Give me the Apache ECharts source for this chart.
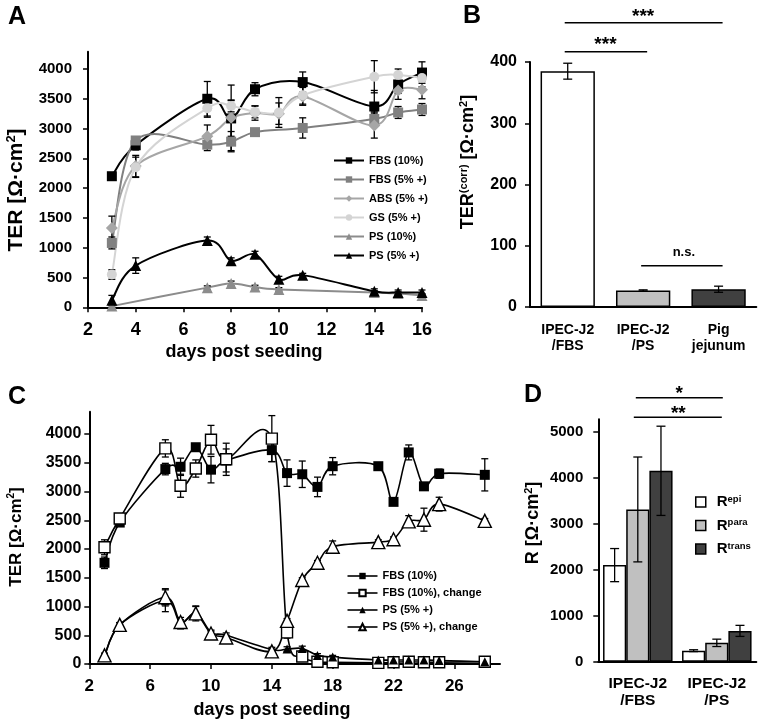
<!DOCTYPE html>
<html><head><meta charset="utf-8">
<script src="https://cdn.jsdelivr.net/npm/echarts@6/dist/echarts.min.js"></script>
<style>html,body{margin:0;padding:0;background:#fff}#c{width:763px;height:726px}</style>
</head><body><div id="c"></div><script>
// ---------- Panel A data ----------
const aDaysFBS10 = [3,4,7,8,9,11,14,15,16];
const aFBS10     = [2200,2720,3500,3170,3660,3780,3370,3740,3940];
const aFBS10err  = [40,80,290,300,110,170,270,150,180];
const aDaysFBS5  = [3,4,7,8,9,11,14,15,16];
const aFBS5      = [1080,2800,2730,2780,2940,3010,3160,3270,3320];
const aFBS5err   = [100,40,100,170,50,170,120,100,100];
const aDaysABS   = [3,4,7,8,9,10,11,14,15,16];
const aABS       = [1330,2370,2870,3180,3260,3250,3540,3050,3640,3650];
const aABSerr    = [200,180,190,550,120,180,150,210,150,150];
const aDaysGS    = [3,4,7,8,9,10,11,14,15,16];
const aGS        = [550,2350,3340,3380,3280,3270,3560,3870,3900,3850];
const aGSerr     = [80,170,150,100,100,250,150,270,100,150];
const aDaysPS10  = [3,7,8,9,10,14,15,16];
const aPS10      = [20,330,400,340,300,250,230,200];
const aPS10err   = [20,30,40,30,30,30,30,30];
const aDaysPS5   = [3,4,7,8,9,10,11,14,15,16];
const aPS5       = [120,700,1120,780,890,470,540,270,250,250];
const aPS5err    = [80,130,60,50,50,50,30,40,40,40];
const aYTicks    = [0,500,1000,1500,2000,2500,3000,3500,4000];
const aXTicks    = [2,4,6,8,10,12,14,16];
// ---------- Panel B data ----------
const bCats = ['IPEC-J2\n/FBS','IPEC-J2\n/PS','Pig\njejunum'];
const bVals = [385,27,29];
const bErr  = [13,1,5];
const bColors = ['#ffffff','#c0c0c0','#404040'];
const bYTicks = [0,100,200,300,400];
// ---------- Panel C data ----------
const cDays     = [3,4,7,8,9,10,11,14,15,16,17,18,21,22,23,24,25,28];
const cFBS10    = [1760,2460,3390,3430,3770,3380,3540,3720,3320,3300,3080,3440,3440,2820,3680,3090,3310,3290];
const cFBS10err = [100,50,100,150,40,230,200,200,230,230,170,150,30,30,130,30,80,280];
const cFBSch    = [2030,2530,3750,3100,3400,3900,3560,3920,550,130,40,30,20,30,40,30,30,40];
const cFBSchErr = [130,50,150,200,150,250,280,400,100,30,20,20,20,20,20,20,20,20];
const cPS       = [130,680,1100,710,900,550,500,250,260,270,150,120,70,70,70,70,60,40];
const cPSerr    = [40,40,190,100,100,40,40,40,40,40,30,30,20,20,20,20,20,20];
const cPSch     = [150,680,1160,730,880,530,460,220,750,1460,1760,2040,2120,2170,2480,2510,2780,2490];
const cPSchErr  = [40,40,150,40,130,40,40,40,40,40,40,100,40,40,100,200,120,40];
const cYTicks   = [0,500,1000,1500,2000,2500,3000,3500,4000];
const cXTicks   = [2,6,10,14,18,22,26];
// ---------- Panel D data ----------
const dCats     = ['IPEC-J2\n/FBS','IPEC-J2\n/PS'];
const dEpi      = [2100,240];
const dEpiErr   = [360,20];
const dPara     = [3310,410];
const dParaErr  = [1140,80];
const dTrans    = [4150,670];
const dTransErr = [970,120];
const dYTicks   = [0,1000,2000,3000,4000,5000];

const FONT = '"Liberation Sans", Arial, sans-serif';
const chart = echarts.init(document.getElementById('c'));

function valAxis(grid, min, max, interval, ticks, fs, margin, extra) {
  return Object.assign({
    gridIndex: grid, type: 'value', min, max, interval,
    axisLine: {show: true, lineStyle: {color: '#000', width: 2}},
    axisTick: {show: true, length: 5, customValues: ticks, lineStyle: {color: '#000', width: 1.5}},
    axisLabel: {show: true, customValues: ticks, formatter: v => String(v), fontSize: fs, fontWeight: 'bold', fontFamily: FONT, color: '#000', margin},
    splitLine: {show: false}
  }, extra || {});
}
function catAxis(grid, data, fs, lh, margin) {
  return {
    gridIndex: grid, type: 'category', data,
    axisLine: {show: true, lineStyle: {color: '#000', width: 2}},
    axisTick: {show: false},
    axisLabel: {interval: 0, fontSize: fs, lineHeight: lh, fontWeight: 'bold', fontFamily: FONT, color: '#000', margin},
    splitLine: {show: false}
  };
}
// smoothed curve (cardinal / Catmull-Rom like spreadsheet smoothing) via axis coords
function curve(xi, yi, xs, ys, color, width) {
  return {
    type: 'custom', xAxisIndex: xi, yAxisIndex: yi, silent: true, z: 2,
    data: [[xs[0], ys[0]]],
    renderItem: function (params, api) {
      const p = xs.map((x, i) => api.coord([x, ys[i]]));
      let d = 'M' + p[0][0] + ' ' + p[0][1];
      for (let i = 0; i < p.length - 1; i++) {
        const p0 = p[Math.max(i - 1, 0)], p1 = p[i], p2 = p[i + 1], p3 = p[Math.min(i + 2, p.length - 1)];
        const c1x = p1[0] + (p2[0] - p0[0]) / 6, c1y = p1[1] + (p2[1] - p0[1]) / 6;
        const c2x = p2[0] - (p3[0] - p1[0]) / 6, c2y = p2[1] - (p3[1] - p1[1]) / 6;
        d += ' C' + c1x + ' ' + c1y + ' ' + c2x + ' ' + c2y + ' ' + p2[0] + ' ' + p2[1];
      }
      return {type: 'path', shape: {pathData: d}, style: {stroke: color, lineWidth: width, fill: 'none'}};
    }
  };
}
function errBars(xi, yi, xs, ys, es, cap, offsetFn) {
  return {
    type: 'custom', xAxisIndex: xi, yAxisIndex: yi, silent: true, z: 3,
    data: xs.map((x, i) => [x, ys[i], es[i]]),
    renderItem: function (params, api) {
      const x = api.value(0), y = api.value(1), e = api.value(2);
      const t = api.coord([x, y + e]), b = api.coord([x, y - e]);
      let cx = t[0];
      if (offsetFn) cx += offsetFn(api);
      const st = {stroke: '#000', lineWidth: 1.3};
      return {type: 'group', children: [
        {type: 'line', shape: {x1: cx, y1: t[1], x2: cx, y2: b[1]}, style: st},
        {type: 'line', shape: {x1: cx - cap / 2, y1: t[1], x2: cx + cap / 2, y2: t[1]}, style: st},
        {type: 'line', shape: {x1: cx - cap / 2, y1: b[1], x2: cx + cap / 2, y2: b[1]}, style: st}
      ]};
    }
  };
}
function syms(name, xi, yi, xs, ys, sym, size, fill, stroke) {
  return {
    type: 'line', name, xAxisIndex: xi, yAxisIndex: yi, data: xs.map((x, i) => [x, ys[i]]),
    symbol: sym, symbolSize: size, showSymbol: true, silent: true, z: 5,
    itemStyle: {color: fill, borderColor: stroke, borderWidth: fill === '#fff' ? 1.4 : 0},
    lineStyle: {color: stroke, width: 2, opacity: 0}
  };
}

const series = [];
// Panel A
const aDefs = [
  ['FBS (10%)', aDaysFBS10, aFBS10, aFBS10err, 'rect', 10, '#000000'],
  ['FBS (5% +)', aDaysFBS5, aFBS5, aFBS5err, 'rect', 10, '#808080'],
  ['ABS (5% +)', aDaysABS, aABS, aABSerr, 'diamond', 12, '#a6a6a6'],
  ['GS (5% +)', aDaysGS, aGS, aGSerr, 'circle', 10, '#d4d4d4'],
  ['PS (10%)', aDaysPS10, aPS10, aPS10err, 'triangle', 11, '#8c8c8c'],
  ['PS (5% +)', aDaysPS5, aPS5, aPS5err, 'triangle', 11, '#000000']
];
aDefs.forEach(d => {
  series.push(curve(0, 0, d[1], d[2], d[6], 2));
  series.push(errBars(0, 0, d[1], d[2], d[3], 7));
  series.push(syms(d[0], 0, 0, d[1], d[2], d[4], d[5], d[6], d[6]));
});
// Panel B
const bBarIndex = series.length;
series.push({
  type: 'bar', xAxisIndex: 1, yAxisIndex: 1, barWidth: '72%', silent: true, z: 2,
  data: bVals.map((v, i) => ({value: v, itemStyle: {color: bColors[i], borderColor: '#000', borderWidth: 1.5}}))
});
series.push(errBars(1, 1, bVals.map((v, i) => i), bVals, bErr, 9));
// Panel C
const cDefs = [
  ['C:FBS (10%)', cFBS10, cFBS10err, 'rect', 10, '#000'],
  ['C:FBS (10%), change', cFBSch, cFBSchErr, 'rect', 11, '#fff'],
  ['C:PS (5% +)', cPS, cPSerr, 'triangle', 9, '#000'],
  ['C:PS (5% +), change', cPSch, cPSchErr, 'triangle', 13, '#fff']
];
cDefs.forEach(d => {
  series.push(curve(2, 2, cDays, d[1], '#000', 1.6));
  series.push(errBars(2, 2, cDays, d[1], d[2], 7));
  series.push(syms(d[0], 2, 2, cDays, d[1], d[3], d[4], d[5], '#000'));
});
// Panel D
const dGap = 0.12;
const dDefs = [['Repi', dEpi, dEpiErr, '#ffffff'], ['Rpara', dPara, dParaErr, '#c0c0c0'], ['Rtrans', dTrans, dTransErr, '#404040']];
const dBarIndex = [];
dDefs.forEach((d, k) => {
  dBarIndex.push(series.length);
  series.push({
    type: 'bar', name: d[0], xAxisIndex: 3, yAxisIndex: 3, barGap: '0%', barCategoryGap: (dGap * 100) + '%',
    silent: true, z: 2, data: d[1],
    itemStyle: {color: d[3], borderColor: '#000', borderWidth: 1.5}
  });
});
dDefs.forEach((d, k) => {
  series.push(errBars(3, 3, d[1].map((v, i) => i), d[1], d[2], 9,
    api => (k - 1) * api.size([1, 0])[0] * (1 - dGap) / 3));
});

const legendText = {fontSize: 11, fontWeight: 'bold', fontFamily: FONT, color: '#000'};
const option = {
  animation: false,
  backgroundColor: '#fff',
  grid: [
    {left: 88, top: 51.7, width: 334, height: 255.6},
    {left: 530, top: 62, width: 226.3, height: 245},
    {left: 89.3, top: 411.7, width: 410.7, height: 252.3},
    {left: 598.3, top: 419.3, width: 158, height: 242.4}
  ],
  xAxis: [
    valAxis(0, 2, 16, 2, aXTicks, 18, 14),
    catAxis(1, bCats, 14, 16, 15),
    valAxis(2, 2, 29, 4, cXTicks, 17, 14),
    catAxis(3, dCats, 15.5, 17, 14)
  ],
  yAxis: [
    valAxis(0, 0, 4290, 500, aYTicks, 15, 16),
    valAxis(1, 0, 400, 100, bYTicks, 16, 13),
    valAxis(2, 0, 4388, 500, cYTicks, 16, 8),
    valAxis(3, 0, 5270, 1000, dYTicks, 15, 15)
  ],
  legend: [
    {data: aDefs.map(d => d[0]), orient: 'vertical', left: 333, top: 155, padding: 0,
      itemWidth: 30, itemHeight: 8, itemGap: 8, selectedMode: false, textStyle: legendText,
      lineStyle: {opacity: 1, width: 2}},
    {data: cDefs.map(d => d[0]), orient: 'vertical', left: 346.7, top: 570.5, padding: 0,
      itemWidth: 30, itemHeight: 8, itemGap: 6, selectedMode: false, textStyle: legendText,
      lineStyle: {opacity: 1, width: 1.6}, formatter: n => n.slice(2)},
    {data: dDefs.map(d => d[0]), orient: 'vertical', left: 695, top: 494, padding: 0,
      itemWidth: 10, itemHeight: 10, itemGap: 8, icon: 'rect', selectedMode: false,
      itemStyle: {borderColor: '#000', borderWidth: 1.5},
      formatter: n => '{r|R}{s|' + n.slice(1) + '}',
      textStyle: {rich: {
        r: {fontSize: 15, fontWeight: 'bold', fontFamily: FONT, color: '#000', padding: [0, 0, 0, 6], lineHeight: 16},
        s: {fontSize: 9.5, fontWeight: 'bold', fontFamily: FONT, color: '#000', verticalAlign: 'top', lineHeight: 10}
      }}}
  ],
  series
};
chart.setOption(option);

// ---------- text & annotations ----------
function bold(sz) { return 'bold ' + sz + 'px ' + FONT; }
function txt(t, x, y, sz, rot) {
  return {type: 'text', x, y, rotation: rot || 0, z: 10,
    style: {text: t, font: bold(sz), fill: '#000', align: 'center', verticalAlign: 'middle'}};
}
function richTitle(parts, x, y, sz, rot) {
  return {type: 'text', x, y, rotation: rot, z: 10,
    style: {text: parts, align: 'center', verticalAlign: 'middle',
      rich: {m: {font: bold(sz), fill: '#000', lineHeight: sz + 2},
             s: {font: bold(Math.round(sz * 0.6)), fill: '#000', verticalAlign: 'top', lineHeight: Math.round(sz * 0.6)}}}};
}
function hline(x1, x2, y) {
  return {type: 'line', z: 10, shape: {x1, y1: y, x2, y2: y}, style: {stroke: '#000', lineWidth: 1.5}};
}
const bx = i => chart.convertToPixel({seriesIndex: bBarIndex}, [i, 0])[0];
const dx = (k, i) => chart.convertToPixel({seriesIndex: dBarIndex[k]}, [i, 0])[0];
const graphics = [
  txt('A', 17, 17, 25), txt('B', 472, 16, 25), txt('C', 17, 397, 25), txt('D', 533, 395, 25),
  richTitle('{m|TER [Ω·cm}{s|2}{m|]}', 16, 190, 21, Math.PI / 2),
  richTitle('{m|TER}{s|(corr)}{m| [Ω·cm}{s|2}{m|]}', 468, 162, 18, Math.PI / 2),
  richTitle('{m|TER [Ω·cm}{s|2}{m|]}', 16, 537, 17, Math.PI / 2),
  richTitle('{m|R [Ω·cm}{s|2}{m|]}', 533, 523, 18, Math.PI / 2),
  txt('days post seeding', 244, 352, 18), txt('days post seeding', 272, 710, 18),
  // B significance
  hline(bx(0) - 3, bx(2) + 4, 22.7), txt('***', (bx(0) + bx(2)) / 2, 17, 19),
  hline(bx(0) - 3, bx(1) + 4, 51.7), txt('***', (bx(0) + bx(1)) / 2, 45, 19),
  hline(bx(1) - 2, bx(2) + 4, 265.7), txt('n.s.', (bx(1) + bx(2)) / 2 + 3, 252, 13),
  // D significance
  hline(dx(1, 0) - 2, dx(1, 1) + 6, 397.7), txt('*', (dx(1, 0) + dx(1, 1)) / 2 + 2, 394, 19),
  hline(dx(2, 0) - 4, dx(2, 1) + 5, 417.3), txt('**', (dx(2, 0) + dx(2, 1)) / 2 + 1, 414, 19)
];
chart.setOption({graphic: graphics});
</script></body></html>
